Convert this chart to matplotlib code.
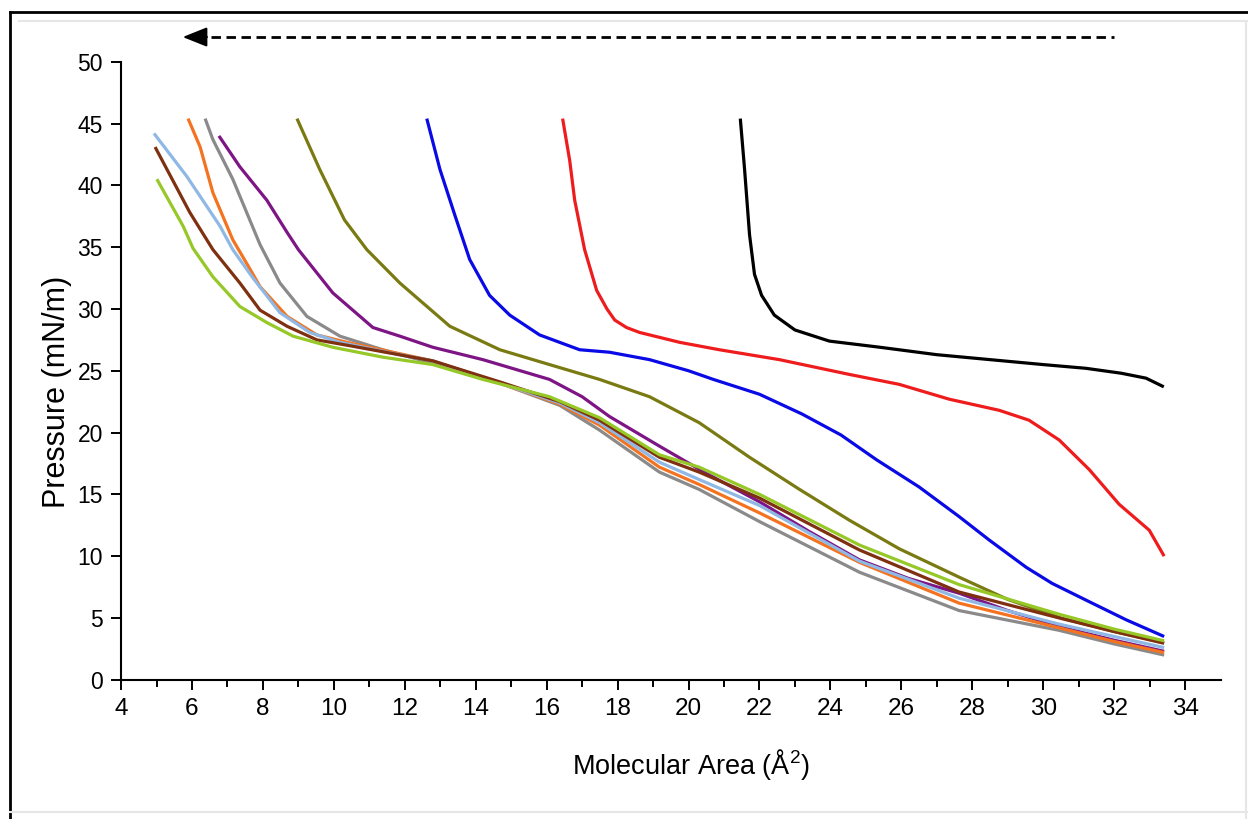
import matplotlib
matplotlib.use('Agg')
import matplotlib.pyplot as plt
from matplotlib.lines import Line2D

plt.rcParams['font.family'] = ['Liberation Sans', 'DejaVu Sans']
plt.rcParams['mathtext.fontset'] = 'custom'
plt.rcParams['mathtext.rm'] = 'Liberation Sans'
plt.rcParams['mathtext.it'] = 'Liberation Sans'

# isotherm data, molecular area (A^2) vs surface pressure (mN/m)
black_x = [21.46, 21.58, 21.72, 21.86, 22.06, 22.42, 23.0, 23.97, 25.4, 27.0, 28.5, 30.0, 31.2, 32.2, 32.9, 33.4]
black_y = [45.4, 41.3, 36.0, 32.8, 31.1, 29.5, 28.3, 27.4, 26.9, 26.3, 25.9, 25.5, 25.2, 24.8, 24.4, 23.7]

red_x = [16.45, 16.65, 16.79, 17.07, 17.41, 17.7, 17.92, 18.25, 18.62, 19.75, 20.87, 22.56, 24.54, 25.94, 27.35, 28.76, 29.6, 30.45, 31.3, 32.14, 32.99, 33.41]
red_y = [45.4, 42.0, 38.8, 34.8, 31.5, 30.0, 29.1, 28.5, 28.1, 27.3, 26.7, 25.9, 24.7, 23.9, 22.7, 21.8, 21.0, 19.4, 17.0, 14.2, 12.1, 10.0]

blue_x = [12.62, 12.99, 13.41, 13.83, 14.39, 14.96, 15.8, 16.93, 17.77, 18.9, 20.0, 20.7, 22.0, 23.2, 24.3, 25.3, 26.5, 27.63, 28.48, 29.52, 30.25, 31.38, 32.34, 33.41]
blue_y = [45.4, 41.3, 37.6, 34.0, 31.1, 29.5, 27.9, 26.7, 26.5, 25.9, 25.0, 24.3, 23.1, 21.5, 19.8, 17.8, 15.6, 13.2, 11.3, 9.1, 7.8, 6.2, 4.85, 3.5]

olive_x = [8.96, 9.6, 10.3, 10.93, 11.86, 13.27, 14.68, 16.08, 17.49, 18.9, 20.3, 21.72, 23.13, 24.54, 25.94, 27.63, 29.0, 30.5, 32.0, 33.41]
olive_y = [45.4, 41.3, 37.2, 34.8, 32.1, 28.6, 26.7, 25.5, 24.3, 22.9, 20.8, 18.0, 15.4, 12.9, 10.6, 8.3, 6.5, 5.0, 3.9, 3.0]

purple_x = [6.76, 7.35, 8.11, 8.68, 9.0, 9.97, 11.1, 11.86, 12.79, 14.2, 16.08, 17.0, 17.77, 19.18, 20.5, 22.0, 23.4, 24.82, 26.2, 27.63, 29.0, 30.45, 32.0, 33.41]
purple_y = [44.0, 41.5, 38.8, 36.2, 34.8, 31.3, 28.5, 27.8, 26.9, 25.9, 24.3, 22.9, 21.3, 18.9, 16.7, 14.4, 12.0, 9.7, 8.2, 7.0, 5.6, 4.3, 3.2, 2.3]

gray_x = [6.37, 6.59, 7.15, 7.92, 8.48, 9.24, 10.17, 11.38, 12.79, 14.68, 16.37, 17.49, 19.18, 20.3, 22.0, 24.82, 27.63, 30.45, 32.0, 33.41]
gray_y = [45.4, 43.7, 40.5, 35.2, 32.1, 29.4, 27.8, 26.7, 25.6, 24.0, 22.2, 20.2, 16.8, 15.4, 12.8, 8.7, 5.6, 4.0, 2.9, 2.0]

orange_x = [5.89, 6.23, 6.59, 7.15, 7.6, 7.92, 8.68, 9.52, 10.37, 11.5, 12.79, 14.68, 16.37, 17.49, 19.18, 20.3, 22.0, 24.82, 27.63, 30.45, 32.0, 33.41]
orange_y = [45.4, 43.1, 39.4, 35.6, 33.4, 31.8, 29.4, 27.9, 27.3, 26.6, 25.8, 24.0, 22.3, 20.6, 17.2, 15.8, 13.5, 9.5, 6.2, 4.2, 3.1, 2.2]

ltblue_x = [4.93, 5.86, 6.79, 7.15, 7.72, 8.48, 9.32, 10.17, 11.5, 12.79, 14.68, 16.37, 17.49, 19.18, 20.3, 22.0, 24.82, 27.63, 30.45, 32.0, 33.41]
ltblue_y = [44.2, 40.7, 36.7, 34.8, 32.5, 29.7, 28.1, 27.3, 26.5, 25.8, 24.0, 22.4, 20.8, 17.6, 16.2, 14.1, 9.6, 6.6, 4.5, 3.5, 2.6]

brown_x = [4.96, 5.94, 6.59, 7.35, 7.92, 8.68, 9.52, 10.5, 12.79, 14.68, 16.37, 17.49, 19.18, 20.3, 22.0, 24.82, 27.63, 30.45, 32.0, 33.41]
brown_y = [43.1, 37.8, 34.8, 32.1, 29.9, 28.6, 27.5, 27.0, 25.8, 24.1, 22.5, 21.0, 18.0, 16.8, 14.7, 10.5, 7.1, 5.0, 3.9, 2.95]

green_x = [5.01, 5.75, 6.03, 6.59, 7.35, 8.11, 8.85, 9.97, 11.38, 12.79, 14.2, 16.08, 17.49, 19.18, 20.3, 22.0, 24.82, 27.63, 30.45, 32.0, 33.41]
green_y = [40.5, 36.7, 34.9, 32.6, 30.2, 28.9, 27.8, 26.9, 26.1, 25.5, 24.3, 22.9, 21.2, 18.2, 17.2, 15.0, 10.9, 7.7, 5.3, 4.1, 3.15]

series = [
    (black_x, black_y, '#000000'),
    (red_x, red_y, '#ee1c1c'),
    (blue_x, blue_y, '#0a0ae6'),
    (olive_x, olive_y, '#7a7a12'),
    (purple_x, purple_y, '#7d1585'),
    (gray_x, gray_y, '#8a8a8a'),
    (orange_x, orange_y, '#f47321'),
    (ltblue_x, ltblue_y, '#8fb8e4'),
    (brown_x, brown_y, '#7f3010'),
    (green_x, green_y, '#96c828'),
]

fig = plt.figure(figsize=(12.48, 8.19), dpi=100)
ax = fig.add_axes([0.097, 0.170, 0.881, 0.7546])

for xs, ys, c in series:
    ax.plot(xs, ys, color=c, lw=2.3, solid_capstyle='butt', solid_joinstyle='round')

ax.set_xlim(4, 35)
ax.set_ylim(0, 50)
ax.set_xticks(range(4, 35, 2))
ax.set_xticks(range(5, 35, 2), minor=True)
ax.set_yticks(range(0, 51, 5))

for s in ['top', 'right']:
    ax.spines[s].set_visible(False)
for s in ['left', 'bottom']:
    ax.spines[s].set_linewidth(1.5)

ax.tick_params(axis='both', which='major', direction='out', length=7, width=1.4)
ax.tick_params(axis='x', which='minor', direction='out', length=5, width=1.4)
ax.tick_params(axis='y', labelsize=16.5, pad=6)
ax.tick_params(axis='x', labelsize=17.5, pad=6)

ax.set_xlabel('Molecular Area (Å$^2$)', fontsize=19.5)
ax.set_ylabel('Pressure (mN/m)', fontsize=22)
ax.xaxis.set_label_coords(0.518, -0.108)
ax.yaxis.set_label_coords(-0.045, 0.466)

# compression direction arrow above the plot
ax.plot([6.1, 32.0], [52.0, 52.0], color='black', lw=2, ls=(0, (3.4, 2.0)), clip_on=False)
ax.annotate('', xy=(5.66, 52.0), xytext=(6.5, 52.0),
            arrowprops=dict(arrowstyle='-|>,head_length=1.5,head_width=0.6', color='black', lw=1.5),
            annotation_clip=False)

# screenshot frame
fig.add_artist(Line2D([0.008, 1.0], [0.9853, 0.9853], color='black', lw=2))
fig.add_artist(Line2D([0.008, 0.008], [0.0, 0.9853], color='black', lw=2))
fig.add_artist(Line2D([0.015, 1.0], [0.974, 0.974], color='#e6e6e6', lw=1.5))
fig.add_artist(Line2D([0.998, 0.998], [0.0, 0.974], color='#e6e6e6', lw=1.5))
fig.add_artist(Line2D([0.008, 1.0], [0.0085, 0.0085], color='#e6e6e6', lw=1.5))

fig.savefig('out.png', dpi=100)
